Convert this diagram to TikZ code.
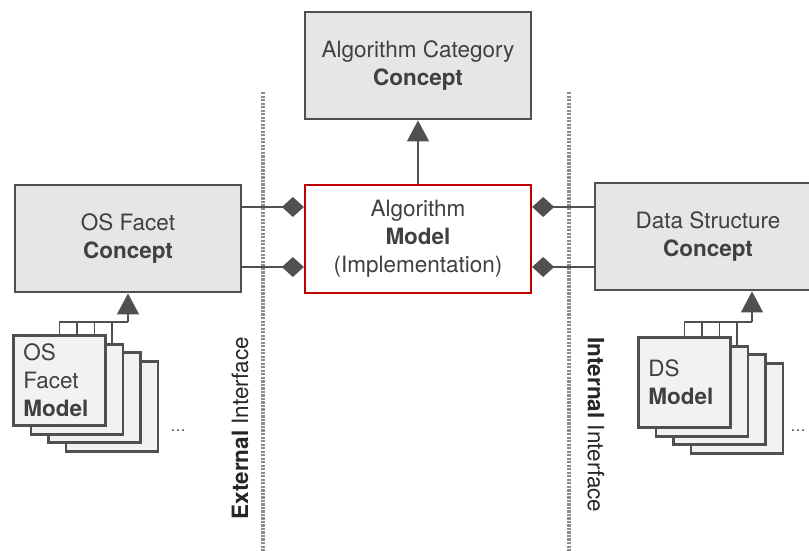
\documentclass[tikz,border=0pt]{standalone}
\usepackage{fontspec}
\setmainfont{TeX Gyre Heros}
\usetikzlibrary{arrows.meta,backgrounds}

\definecolor{linegray}{HTML}{505050}
\definecolor{conceptfill}{HTML}{E6E6E6}
\definecolor{modelfill}{HTML}{F2F2F2}
\definecolor{textgray}{HTML}{404040}
\definecolor{implred}{HTML}{C00000}
\definecolor{sepgray}{HTML}{8C8C8C}

\tikzset{
  concept/.style={draw=linegray, fill=conceptfill, line width=2pt, minimum width=5.65cm, minimum height=2.675cm, align=center},
  impl/.style={draw=implred, fill=white, line width=1.6pt, minimum width=5.65cm, minimum height=2.7cm, align=center},
  modelbox/.style={draw=linegray, fill=modelfill, line width=2pt, minimum height=2.25cm, text width=1.8cm, inner xsep=0.25cm, align=left, anchor=north west},
  conn/.style={draw=linegray, line width=1pt},
  realize/.style={conn, -{Triangle[width=0.55cm,length=0.525cm]}},
  aggr/.style={conn, {Diamond[width=0.5cm,length=0.55cm]}-},
  sepline/.style={draw=sepgray, line width=2.4pt, dash pattern=on 1.6pt off 0.9pt},
}

\begin{document}
\begin{tikzpicture}[x=0.025cm,y=-0.025cm,font=\fontsize{16}{20}\selectfont,text=textgray]
\useasboundingbox (0,0) rectangle (809,551);

% interface borders
\draw[sepline] (263,92) -- (263,551);
\draw[sepline] (569,92) -- (569,551);

\node[concept] (algcat) at (418,65.5) {Algorithm Category\\\textbf{Concept}};
\node[impl] (algmodel) at (418,239) {Algorithm\\\textbf{Model}\\(Implementation)};
\node[concept] (osconcept) at (128,238.5) {OS Facet\\\textbf{Concept}};
\node[concept] (dsconcept) at (708,236.5) {Data Structure\\\textbf{Concept}};

% model stacks, back to front
\foreach \i in {3,2,1} {
  \node[modelbox] (osm\i) at (12+17.5*\i,334+8.7*\i) {};
  \node[modelbox] (dsm\i) at (637+17.5*\i,336+8.7*\i) {};
}
\node[modelbox] (osm0) at (12,334) {OS\\Facet\\\textbf{Model}};
\node[modelbox] (dsm0) at (637,336) {DS\\\textbf{Model}};

\coordinate (osjoin) at (128,322);
\coordinate (dsjoin) at (752,322);
\begin{scope}[on background layer]
\foreach \i in {0,...,3} {
  \draw[conn] (osm\i.north) |- (osjoin);
  \draw[conn] (dsm\i.north) |- (dsjoin);
}
\end{scope}
\draw[realize] (osjoin) -- (osconcept.south);
\draw[realize] (dsjoin) -- (dsjoin |- dsconcept.south);
\draw[realize] (algmodel.north) -- (algcat.south);

% aggregations
\coordinate (osup) at ([yshift=0.8cm]algmodel.west);
\coordinate (osdown) at ([yshift=-0.7cm]algmodel.west);
\coordinate (dsup) at ([yshift=0.8cm]algmodel.east);
\coordinate (dsdown) at ([yshift=-0.7cm]algmodel.east);
\draw[aggr] (osup) -- (osup -| osconcept.east);
\draw[aggr] (osdown) -- (osdown -| osconcept.east);
\draw[aggr] (dsup) -- (dsup -| dsconcept.west);
\draw[aggr] (dsdown) -- (dsdown -| dsconcept.west);

\node[font=\fontsize{11}{13}\selectfont] (osmore) at (178,431) {\dots};
\node[font=\fontsize{11}{13}\selectfont] (dsmore) at (798,431) {\dots};

\node[rotate=90,text=black!85] (extlabel) at (240,428) {\textbf{External} Interface};
\node[rotate=-90,text=black!85] (intlabel) at (596,425) {\textbf{Internal} Interface};
\end{tikzpicture}
\end{document}
